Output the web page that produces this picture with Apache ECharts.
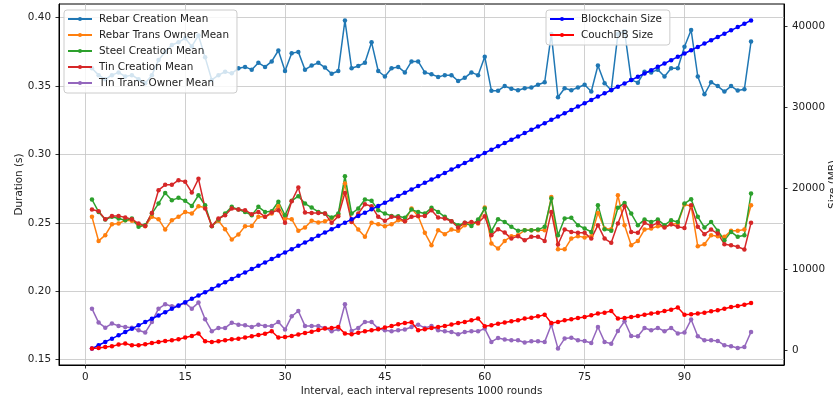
<!DOCTYPE html>
<html><head><meta charset="utf-8">
<script src="https://cdn.jsdelivr.net/npm/echarts@6/dist/echarts.min.js"></script>
<style>html,body{margin:0;padding:0;background:#fff}#c{width:833px;height:402px}</style>
</head><body><div id="c"></div>
<script>
const intervals = [1,2,3,4,5,6,7,8,9,10,11,12,13,14,15,16,17,18,19,20,21,22,23,24,25,26,27,28,29,30,31,32,33,34,35,36,37,38,39,40,41,42,43,44,45,46,47,48,49,50,51,52,53,54,55,56,57,58,59,60,61,62,63,64,65,66,67,68,69,70,71,72,73,74,75,76,77,78,79,80,81,82,83,84,85,86,87,88,89,90,91,92,93,94,95,96,97,98,99,100];

const rebarCreation = [0.363,0.358,0.355,0.358,0.360,0.357,0.358,0.355,0.352,0.358,0.369,0.375,0.380,0.382,0.385,0.379,0.387,0.371,0.3545,0.358,0.3605,0.3593,0.363,0.364,0.362,0.367,0.364,0.368,0.376,0.361,0.374,0.375,0.362,0.365,0.367,0.3635,0.359,0.361,0.398,0.363,0.3647,0.367,0.382,0.361,0.357,0.363,0.364,0.360,0.368,0.368,0.360,0.3586,0.3567,0.358,0.358,0.3537,0.356,0.360,0.358,0.3715,0.3466,0.3466,0.350,0.348,0.347,0.3484,0.349,0.351,0.3528,0.388,0.3418,0.3484,0.347,0.349,0.351,0.346,0.365,0.352,0.347,0.388,0.390,0.3545,0.3525,0.3605,0.360,0.362,0.357,0.363,0.363,0.3788,0.391,0.357,0.344,0.3528,0.350,0.346,0.350,0.3467,0.3477,0.3825];

const rebarTransOwner = [0.2544,0.2368,0.2410,0.2490,0.2495,0.2519,0.2515,0.2490,0.2476,0.2544,0.2527,0.2451,0.2519,0.2544,0.2580,0.2568,0.2622,0.2612,0.2478,0.2515,0.2454,0.2378,0.2415,0.2476,0.2478,0.2544,0.2544,0.2568,0.2622,0.2532,0.2527,0.2442,0.2466,0.2515,0.2502,0.2512,0.2532,0.2561,0.2788,0.2512,0.2451,0.2398,0.2500,0.2490,0.2476,0.2490,0.2519,0.2512,0.2605,0.2549,0.2427,0.2337,0.2446,0.2417,0.2451,0.2442,0.2483,0.2500,0.2495,0.2612,0.2349,0.2312,0.2368,0.2403,0.2410,0.2446,0.2446,0.2446,0.2446,0.2690,0.2307,0.2307,0.2385,0.2403,0.2393,0.2403,0.2573,0.2459,0.2454,0.2702,0.2483,0.2337,0.2368,0.2451,0.2459,0.2476,0.2471,0.2490,0.2495,0.2634,0.2624,0.2329,0.2344,0.2410,0.2403,0.2398,0.2442,0.2442,0.2451,0.2629];

const steelCreation = [0.2671,0.2580,0.2524,0.2544,0.2532,0.2519,0.2532,0.2471,0.2483,0.2568,0.2641,0.2719,0.2666,0.2683,0.2661,0.2624,0.2702,0.2629,0.2476,0.2524,0.2568,0.2617,0.2597,0.2580,0.2556,0.2617,0.2580,0.2585,0.2654,0.2556,0.2661,0.2695,0.2641,0.2612,0.2580,0.2568,0.2539,0.2568,0.2841,0.2568,0.2605,0.2671,0.2661,0.2593,0.2568,0.2551,0.2549,0.2537,0.2597,0.2580,0.2568,0.2610,0.2580,0.2544,0.2512,0.2483,0.2500,0.2478,0.2524,0.2605,0.2439,0.2527,0.2507,0.2471,0.2442,0.2446,0.2446,0.2451,0.2471,0.2678,0.2410,0.2532,0.2537,0.2483,0.2459,0.2434,0.2629,0.2454,0.2442,0.2610,0.2646,0.2568,0.2483,0.2524,0.2507,0.2524,0.2483,0.2519,0.2507,0.2641,0.2673,0.2544,0.2466,0.2507,0.2442,0.2373,0.2434,0.2398,0.2410,0.2714];

const tinCreation = [0.2597,0.2585,0.2527,0.2551,0.2551,0.2539,0.2527,0.2495,0.2478,0.2573,0.2739,0.2778,0.2778,0.2812,0.2800,0.2722,0.2822,0.2605,0.2478,0.2532,0.2556,0.2605,0.2597,0.2593,0.2563,0.2580,0.2544,0.2576,0.2593,0.2500,0.2658,0.2758,0.2576,0.2573,0.2573,0.2568,0.2500,0.2549,0.2719,0.2507,0.2568,0.2636,0.2622,0.2544,0.2515,0.2544,0.2539,0.2512,0.2544,0.2551,0.2551,0.2593,0.2539,0.2532,0.2512,0.2466,0.2500,0.2507,0.2500,0.2549,0.2410,0.2454,0.2429,0.2385,0.2403,0.2373,0.2398,0.2398,0.2368,0.2580,0.2342,0.2451,0.2434,0.2427,0.2427,0.2385,0.2483,0.2385,0.2354,0.2495,0.2622,0.2434,0.2427,0.2500,0.2478,0.2500,0.2466,0.2490,0.2471,0.2463,0.2629,0.2471,0.2417,0.2451,0.2422,0.2344,0.2337,0.2325,0.2305,0.2500];

const tinTransOwner = [0.1873,0.1771,0.1734,0.1764,0.1747,0.1739,0.1734,0.1715,0.1698,0.1776,0.1873,0.1905,0.1890,0.1893,0.1915,0.1873,0.1917,0.1795,0.1708,0.1732,0.1732,0.1769,0.1756,0.1751,0.1739,0.1756,0.1747,0.1747,0.1776,0.1720,0.1817,0.1856,0.1747,0.1747,0.1747,0.1732,0.1708,0.1722,0.1905,0.1710,0.1732,0.1776,0.1776,0.1727,0.1715,0.1708,0.1715,0.1720,0.1739,0.1756,0.1732,0.1747,0.1715,0.1708,0.1703,0.1686,0.1703,0.1708,0.1708,0.1727,0.1630,0.1659,0.1647,0.1642,0.1642,0.1625,0.1635,0.1635,0.1630,0.1756,0.1581,0.1654,0.1661,0.1642,0.1637,0.1622,0.1739,0.1630,0.1617,0.1710,0.1781,0.1673,0.1671,0.1732,0.1715,0.1732,0.1708,0.1732,0.1691,0.1698,0.1793,0.1671,0.1642,0.1642,0.1637,0.1605,0.1598,0.1586,0.1593,0.1703];

const blockchainSize = [210,620,1030,1440,1850,2260,2670,3080,3480,3890,4300,4710,5120,5530,5940,6350,6760,7170,7580,7990,8400,8810,9210,9620,10030,10440,10850,11260,11670,12080,12490,12900,13310,13720,14130,14540,14950,15350,15760,16170,16580,16990,17400,17810,18220,18630,19040,19450,19860,20270,20680,21080,21490,21900,22310,22720,23130,23540,23950,24360,24770,25180,25590,26000,26410,26820,27220,27630,28040,28450,28860,29270,29680,30090,30500,30910,31320,31730,32140,32550,32950,33360,33770,34180,34590,35000,35410,35820,36230,36640,37050,37460,37870,38280,38680,39090,39500,39910,40320,40730];

const couchdbSize = [210,280,410,490,700,830,620,620,740,900,1020,1150,1230,1360,1570,1760,2060,1110,1020,1110,1230,1360,1440,1570,1730,1900,2050,2350,1570,1640,1760,1940,2150,2280,2500,2680,2750,2870,2060,1970,2180,2340,2470,2590,2800,3000,3210,3370,3450,2470,2590,2750,2870,3000,3170,3370,3490,3700,3910,2960,3080,3290,3420,3580,3700,3910,4030,4190,4400,3370,3490,3700,3820,3980,4110,4320,4530,4650,4850,3910,3980,4110,4230,4400,4530,4650,4850,5020,5270,4400,4440,4530,4650,4810,4930,5140,5340,5460,5630,5830];

const xTicks = [0,15,30,45,60,75,90];
const leftTicks = [0.15,0.20,0.25,0.30,0.35,0.40];
const rightTicks = [0,10000,20000,30000,40000];

const FONT = 'DejaVu Sans';
const pair = arr => intervals.map((x, i) => [x, arr[i]]);

function lineSeries(name, arr, color, yAxisIndex) {
  return {
    name, type: 'line', yAxisIndex, data: pair(arr),
    symbol: 'circle', symbolSize: 4.5, showSymbol: true,
    itemStyle: { color }, lineStyle: { color, width: 1.5 },
    emphasis: { disabled: true }, z: yAxisIndex === 1 ? 3 : 2
  };
}

const chart = echarts.init(document.getElementById('c'), null, { renderer: 'canvas' });
const axisCommon = {
  axisLine: { show: true, onZero: false, lineStyle: { color: '#000', width: 1 } },
  axisTick: { show: true, length: 3.5, lineStyle: { color: '#000', width: 0.8 } },
  axisLabel: { fontFamily: FONT, fontSize: 10.4, color: '#222' },
  nameTextStyle: { fontFamily: FONT, fontSize: 10.4, color: '#222' },
  nameMoveOverlap: false
};

chart.setOption({
  animation: false,
  backgroundColor: '#fff',
  grid: { left: 59, top: 4, width: 725, height: 361, outerBoundsMode: 'none', containLabel: false, show: true, borderColor: '#000', borderWidth: 1, backgroundColor: 'transparent' },
  legend: [
    {
      data: ['Rebar Creation Mean','Rebar Trans Owner Mean','Steel Creation Mean','Tin Creation Mean','Tin Trans Owner Mean'],
      orient: 'vertical', left: 64, top: 10,
      padding: [1, 8, 2, 3], itemWidth: 24, itemHeight: 5, itemGap: 0,
      backgroundColor: 'rgba(255,255,255,0.8)', borderColor: '#cccccc', borderWidth: 1, borderRadius: 3,
      textStyle: { fontFamily: FONT, fontSize: 10.4, color: '#222', lineHeight: 16, padding: [0,0,0,2] },
      selectedMode: false
    },
    {
      data: ['Blockchain Size','CouchDB Size'],
      orient: 'vertical', left: 546, top: 10,
      padding: [1, 8, 2, 3], itemWidth: 24, itemHeight: 5, itemGap: 0,
      backgroundColor: 'rgba(255,255,255,0.8)', borderColor: '#cccccc', borderWidth: 1, borderRadius: 3,
      textStyle: { fontFamily: FONT, fontSize: 10.4, color: '#222', lineHeight: 16, padding: [0,0,0,2] },
      selectedMode: false
    }
  ],
  xAxis: {
    type: 'value', min: -3.95, max: 104.95,
    name: 'Interval, each interval represents 1000 rounds', nameLocation: 'middle', nameGap: 21,
    ...axisCommon,
    axisTick: { ...axisCommon.axisTick, customValues: xTicks },
    axisLabel: { ...axisCommon.axisLabel, customValues: xTicks, margin: 7, formatter: v => String(v) },
    splitLine: { show: true, lineStyle: { color: '#c4c4c4', width: 0.8 } }
  },
  yAxis: [
    {
      type: 'value', min: 0.1461, max: 0.4100, position: 'left',
      name: 'Duration (s)', nameLocation: 'middle', nameGap: 35, nameRotate: 90,
      ...axisCommon,
      axisTick: { ...axisCommon.axisTick, customValues: leftTicks },
      axisLabel: { ...axisCommon.axisLabel, customValues: leftTicks, margin: 8, formatter: v => v.toFixed(2) },
      splitLine: { show: true, lineStyle: { color: '#c4c4c4', width: 0.8 } }
    },
    {
      type: 'value', min: -1816, max: 42756, position: 'right',
      name: 'Size (MB)', nameLocation: 'middle', nameGap: 44, nameRotate: 90,
      ...axisCommon,
      axisTick: { ...axisCommon.axisTick, customValues: rightTicks },
      axisLabel: { ...axisCommon.axisLabel, customValues: rightTicks, margin: 8, formatter: v => String(v) },
      splitLine: { show: false }
    }
  ],
  series: [
    lineSeries('Rebar Creation Mean', rebarCreation, '#1f77b4', 0),
    lineSeries('Rebar Trans Owner Mean', rebarTransOwner, '#ff7f0e', 0),
    lineSeries('Steel Creation Mean', steelCreation, '#2ca02c', 0),
    lineSeries('Tin Creation Mean', tinCreation, '#d62728', 0),
    lineSeries('Tin Trans Owner Mean', tinTransOwner, '#9467bd', 0),
    lineSeries('Blockchain Size', blockchainSize, '#0000ff', 1),
    lineSeries('CouchDB Size', couchdbSize, '#ff0000', 1)
  ]
});
</script>
</body></html>
